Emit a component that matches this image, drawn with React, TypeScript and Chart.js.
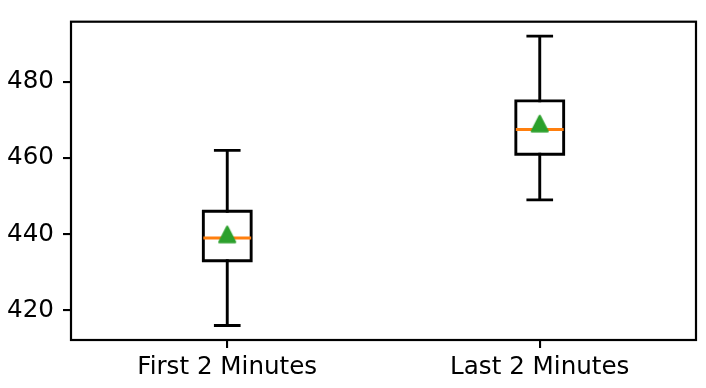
import React, { useEffect, useRef } from "react";
import { Chart, registerables } from "chart.js";

Chart.register(...registerables);

const categories = ["First 2 Minutes", "Last 2 Minutes"];
const whiskerLow = [416, 449];
const q1 = [433, 461];
const median = [439, 467.5];
const q3 = [446, 475];
const whiskerHigh = [462, 492];
const means = [439.9, 469];
const yTicks = [420, 440, 460, 480];

const BOX_HALF = 0.0765;
const CAP_HALF = 0.038;
const LW = 2.9;

function makeTriangle(): HTMLCanvasElement {
  const c = document.createElement("canvas");
  c.width = 20;
  c.height = 20;
  const ctx = c.getContext("2d")!;
  ctx.fillStyle = "#2ca02c";
  ctx.strokeStyle = "#2ca02c";
  ctx.lineWidth = 2.4;
  ctx.lineJoin = "round";
  ctx.beginPath();
  ctx.moveTo(10, 2.2);
  ctx.lineTo(2.2, 17.6);
  ctx.lineTo(17.8, 17.6);
  ctx.closePath();
  ctx.fill();
  ctx.stroke();
  return c;
}

const framePlugin = {
  id: "frame",
  afterDraw(chart: any) {
    const { ctx, chartArea } = chart;
    ctx.save();
    ctx.strokeStyle = "#000";
    ctx.lineWidth = 2.2;
    ctx.strokeRect(chartArea.left, chartArea.top, chartArea.right - chartArea.left, chartArea.bottom - chartArea.top);
    ctx.restore();
  },
};

export default function App() {
  const ref = useRef<HTMLCanvasElement>(null);
  useEffect(() => {
    const pos = categories.map((_, i) => i + 1);
    const boxPts: any[] = [];
    const medPts: any[] = [];
    const whiskPts: any[] = [];
    pos.forEach((p, i) => {
      boxPts.push(
        { x: p - BOX_HALF, y: q1[i] },
        { x: p + BOX_HALF, y: q1[i] },
        { x: p + BOX_HALF, y: q3[i] },
        { x: p - BOX_HALF, y: q3[i] },
        { x: p - BOX_HALF, y: q1[i] },
        { x: p, y: null }
      );
      medPts.push({ x: p - BOX_HALF, y: median[i] }, { x: p + BOX_HALF, y: median[i] }, { x: p, y: null });
      whiskPts.push(
        { x: p, y: q3[i] },
        { x: p, y: whiskerHigh[i] },
        { x: p, y: null },
        { x: p, y: q1[i] },
        { x: p, y: whiskerLow[i] },
        { x: p, y: null },
        { x: p - CAP_HALF, y: whiskerHigh[i] },
        { x: p + CAP_HALF, y: whiskerHigh[i] },
        { x: p, y: null },
        { x: p - CAP_HALF, y: whiskerLow[i] },
        { x: p + CAP_HALF, y: whiskerLow[i] },
        { x: p, y: null }
      );
    });
    const tri = makeTriangle();
    const tickFont = { family: "DejaVu Sans", size: 24.6 };
    const zeroPad = (s: any) => {
      s.paddingTop = 0;
      s.paddingBottom = 0;
      s.paddingLeft = 0;
      s.paddingRight = 0;
    };
    const chart = new Chart(ref.current!, {
      type: "line",
      data: {
        datasets: [
          {
            label: "mean",
            data: pos.map((p, i) => ({ x: p, y: means[i] })),
            showLine: false,
            pointStyle: tri as any,
            pointRadius: 9,
          },
          {
            label: "median",
            data: medPts,
            borderColor: "#ff7f0e",
            borderWidth: LW,
            pointRadius: 0,
            borderCapStyle: "butt",
            spanGaps: false,
          },
          {
            label: "box",
            data: boxPts,
            borderColor: "#000",
            borderWidth: LW,
            pointRadius: 0,
            borderCapStyle: "square",
            borderJoinStyle: "miter",
            spanGaps: false,
            fill: false,
          },
          {
            label: "whiskers",
            data: whiskPts,
            borderColor: "#000",
            borderWidth: LW,
            pointRadius: 0,
            borderCapStyle: "square",
            spanGaps: false,
          },
        ] as any,
      },
      options: {
        animation: false,
        responsive: false,
        events: [],
        layout: { padding: { top: 21.7, right: 7, left: 0, bottom: 0 } },
        plugins: { legend: { display: false }, tooltip: { enabled: false } },
        scales: {
          x: {
            type: "linear",
            min: 0.5,
            max: 2.5,
            afterBuildTicks: (s: any) => {
              s.ticks = pos.map((v) => ({ value: v }));
            },
            afterFit: (s: any) => {
              s.height = 48;
              zeroPad(s);
            },
            grid: { drawOnChartArea: false, drawTicks: true, tickLength: 8, color: "#000", lineWidth: 2.1 },
            border: { display: false },
            ticks: {
              font: tickFont,
              color: "#000",
              padding: 5,
              maxRotation: 0,
              autoSkip: false,
              callback: (v: any) => categories[Math.round(Number(v)) - 1] ?? "",
            },
          },
          y: {
            type: "linear",
            min: 412.2,
            max: 495.8,
            afterBuildTicks: (s: any) => {
              s.ticks = yTicks.map((v) => ({ value: v }));
            },
            afterFit: (s: any) => {
              s.width = 71;
              zeroPad(s);
            },
            grid: { drawOnChartArea: false, drawTicks: true, tickLength: 8, color: "#000", lineWidth: 2.1 },
            border: { display: false },
            ticks: { font: tickFont, color: "#000", padding: 9 },
          },
        },
      } as any,
      plugins: [framePlugin],
    });
    return () => chart.destroy();
  }, []);
  return (
    <div style={{ position: "fixed", left: 0, top: 0, width: 706, height: 388, background: "#fff" }}>
      <canvas ref={ref} width={706} height={388} style={{ display: "block" }} />
    </div>
  );
}
